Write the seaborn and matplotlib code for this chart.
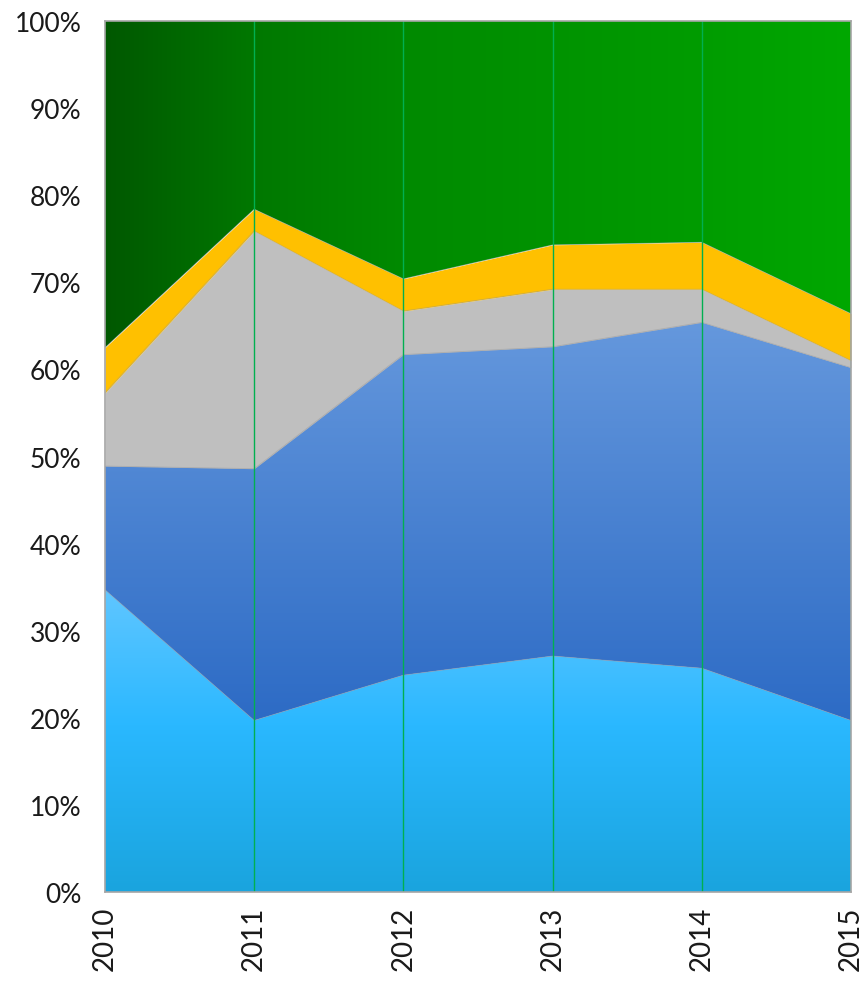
import numpy as np
import pandas as pd
import matplotlib
matplotlib.use("Agg")
import matplotlib.pyplot as plt
import seaborn as sns
from matplotlib.colors import LinearSegmentedColormap

years = [2010, 2011, 2012, 2013, 2014, 2015]
light_blue = [34.7, 19.7, 24.9, 27.1, 25.7, 19.7]
blue = [14.2, 28.9, 36.8, 35.5, 39.7, 40.5]
gray = [8.4, 27.3, 5.0, 6.6, 3.8, 0.8]
gold = [5.2, 2.5, 3.7, 5.1, 5.4, 5.4]
green = [37.5, 21.6, 29.6, 25.7, 25.4, 33.6]
y_ticks = [0, 10, 20, 30, 40, 50, 60, 70, 80, 90, 100]

df = pd.DataFrame({"year": years, "light": light_blue, "blue": blue,
                   "gray": gray, "gold": gold, "green": green})
cols = ["light", "blue", "gray", "gold", "green"]
vals = df[cols].to_numpy(dtype=float)
vals = vals / vals.sum(axis=1, keepdims=True) * 100
cum = np.cumsum(vals, axis=1)
lower = np.hstack([np.zeros((len(years), 1)), cum[:, :-1]])

sns.set_theme(style="white")
plt.rcParams["font.family"] = ["Lato", "DejaVu Sans"]

fig = plt.figure(figsize=(8.67, 9.87), dpi=100)
ax = fig.add_axes([105 / 867, 1 - 893 / 987, 746 / 867, 871 / 987])
x = np.array(years, dtype=float)
ax.set_xlim(x[0], x[-1])
ax.set_ylim(0, 100)

specs = {
    "light": ("v", [(0, "#1aa4de"), (0.55, "#2ab8ff"), (1, "#60c6ff")]),
    "blue": ("v", [(0, "#2d6bc5"), (1, "#6598dd")]),
    "gray": (None, "#bfbfbf"),
    "gold": (None, "#ffc000"),
    "green": ("h", [(0, "#005800"), (0.2, "#007800"), (0.4, "#008a00"),
                    (0.6, "#009300"), (0.8, "#009c00"), (1, "#00a800")]),
}

for i, c in enumerate(cols):
    lo, hi = lower[:, i], cum[:, i]
    kind, spec = specs[c]
    if kind is None:
        ax.fill_between(x, lo, hi, color=spec, lw=0, zorder=1)
    else:
        poly = ax.fill_between(x, lo, hi, color="none", lw=0, zorder=1)
        cmap = LinearSegmentedColormap.from_list(c, spec)
        if kind == "v":
            grad = np.linspace(0, 1, 256).reshape(-1, 1)
            extent = [x[0], x[-1], lo.min(), hi.max()]
        else:
            grad = np.linspace(0, 1, 256).reshape(1, -1)
            extent = [x[0], x[-1], 0, 100]
        im = ax.imshow(grad, cmap=cmap, aspect="auto", origin="lower",
                       extent=extent, zorder=1, interpolation="bilinear")
        im.set_clip_path(poly.get_paths()[0], transform=ax.transData)
    if i < len(cols) - 1:
        sns.lineplot(x=x, y=hi, ax=ax, color="#999999", lw=0.6, alpha=0.5,
                     zorder=2, legend=False)

ax.set_xlim(x[0], x[-1])
ax.set_ylim(0, 100)
for xv in years[1:]:
    ax.axvline(xv, color="#00b050", lw=1.0, zorder=3)

ax.set_xticks(years)
ax.set_xticklabels([str(y) for y in years], rotation=90, fontsize=20,
                   color="#1a1a1a")
ax.set_yticks(y_ticks)
ax.set_yticklabels([f"{t}%" for t in y_ticks], fontsize=19, color="#1a1a1a")
ax.tick_params(axis="both", length=0)
ax.tick_params(axis="y", pad=17)
ax.tick_params(axis="x", pad=10)
ax.set_xlabel("")
ax.set_ylabel("")
for s in ax.spines.values():
    s.set_color("#a6a6a6")
    s.set_linewidth(1.2)
    s.set_zorder(4)
ax.grid(False)

fig.savefig("out.png", dpi=100)
